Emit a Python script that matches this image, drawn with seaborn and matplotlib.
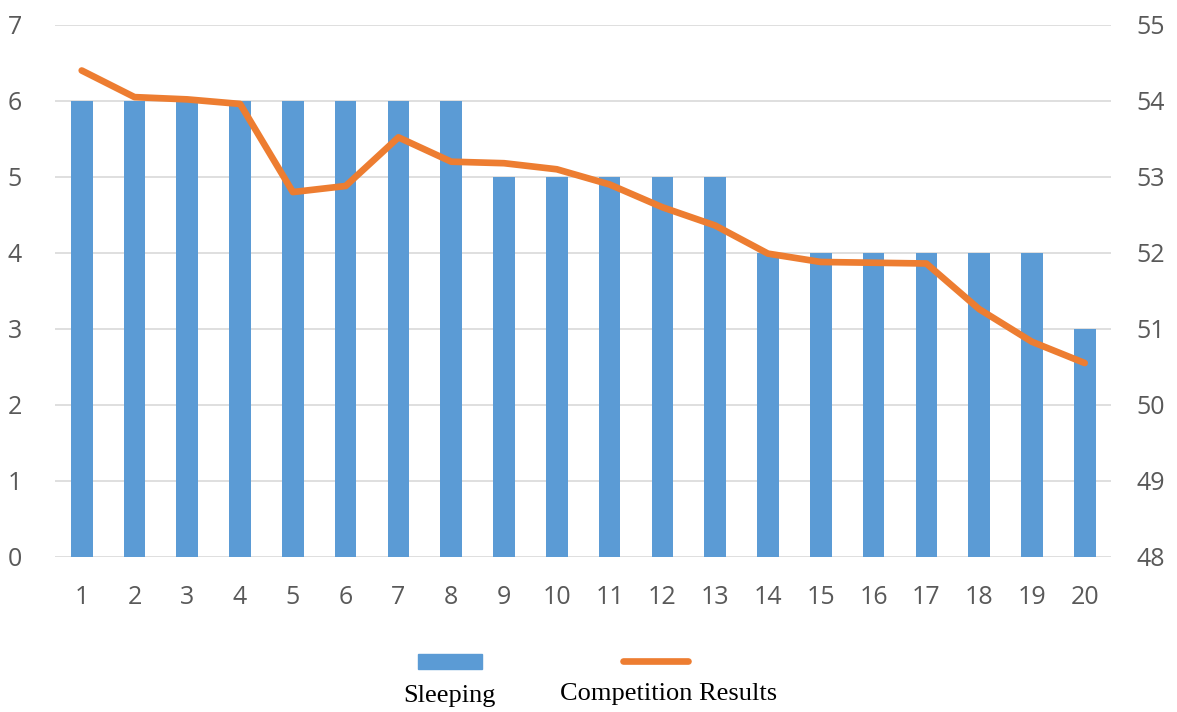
import matplotlib
matplotlib.use("Agg")
import matplotlib.pyplot as plt
from matplotlib.patches import Rectangle
from matplotlib.lines import Line2D
import seaborn as sns
import pandas as pd

# Athletes 1..20: hours of sleep and competition score
athletes = list(range(1, 21))
sleeping = [6, 6, 6, 6, 6, 6, 6, 6, 5, 5, 5, 5, 5, 4, 4, 4, 4, 4, 4, 3]
results = [54.40, 54.05, 54.02, 53.96, 52.80, 52.88, 53.52, 53.20, 53.18, 53.10,
           52.90, 52.60, 52.36, 51.99, 51.88, 51.87, 51.86, 51.26, 50.83, 50.55]
left_ticks = list(range(0, 8))
right_ticks = list(range(48, 56))

BLUE = "#5B9BD5"
ORANGE = "#ED7D31"
GREY_TXT = "#595959"
GRID = "#D9D9D9"

df = pd.DataFrame({"athlete": [str(a) for a in athletes],
                   "pos": list(range(len(athletes))),
                   "sleeping": sleeping,
                   "results": results})

sns.set_theme(style="white")
plt.rcParams["font.family"] = ["Open Sans", "DejaVu Sans"]

fig = plt.figure(figsize=(11.77, 7.12), dpi=100)
ax = fig.add_axes([0.047, 0.218, 0.897, 0.747])

sns.barplot(data=df, x="athlete", y="sleeping", color=BLUE, width=0.41,
            saturation=1, linewidth=0, ax=ax, zorder=2)
ax.set_ylim(0, 7)
ax.set_yticks(left_ticks)
ax.set_xlim(-0.5, len(athletes) - 0.5)
ax.yaxis.grid(True, color=GRID, linewidth=1.2, zorder=0)
ax.set_axisbelow(True)
for s in ax.spines.values():
    s.set_visible(False)
ax.set_xlabel("")
ax.set_ylabel("")
ax.tick_params(axis="both", length=0, labelsize=18, colors=GREY_TXT)
ax.tick_params(axis="x", pad=20)
ax.tick_params(axis="y", pad=24)

ax2 = ax.twinx()
sns.lineplot(data=df, x="pos", y="results", color=ORANGE, linewidth=4.8,
             ax=ax2, solid_capstyle="round", solid_joinstyle="round")
ax2.set_ylim(48, 55)
ax2.set_yticks(right_ticks)
ax2.set_xlim(-0.5, len(athletes) - 0.5)
for s in ax2.spines.values():
    s.set_visible(False)
ax2.set_ylabel("")
ax2.tick_params(axis="y", length=0, labelsize=18, colors=GREY_TXT, pad=18)

# Legend: keys above their labels
fig.add_artist(Rectangle((418 / 1177, 1 - 669 / 712), 64 / 1177, 15 / 712,
                         transform=fig.transFigure, color=BLUE))
fig.add_artist(Line2D([623 / 1177, 688 / 1177], [1 - 661 / 712, 1 - 661 / 712],
                      transform=fig.transFigure, color=ORANGE, linewidth=4.8,
                      solid_capstyle="round"))
fig.text(449 / 1177, 1 - 696 / 712, "Sleeping", ha="center", va="center",
         fontsize=19, family=["Liberation Serif"], color="black")
fig.text(669 / 1177, 1 - 694 / 712, "Competition Results", ha="center", va="center",
         fontsize=19, family=["Liberation Serif"], color="black")

fig.savefig("out.png", dpi=100, facecolor="white")
